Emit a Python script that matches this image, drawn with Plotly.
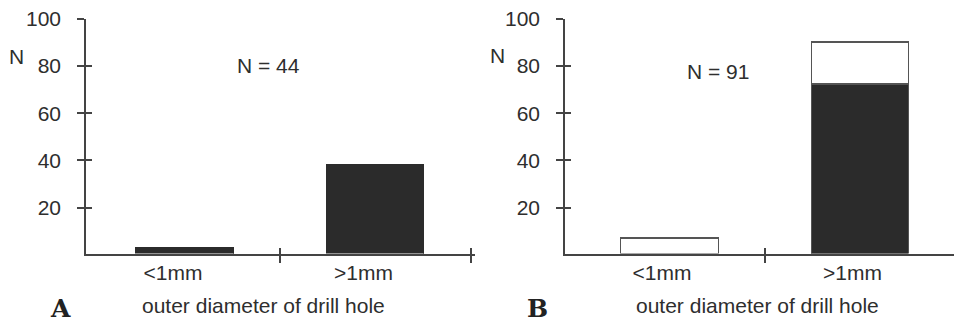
import plotly.graph_objects as go

# ---- data ----
categories = ["<1mm", ">1mm"]
panel_a_black = [3, 38]
panel_b_black = [None, 72]
panel_b_white = [6.5, 18]
y_ticks = [20, 40, 60, 80, 100]
n_a = "N = 44"
n_b = "N = 91"
x_title = "outer diameter of drill hole"

FONT = "Liberation Sans, Arial, sans-serif"
INK = "#2e2e2e"
AX = "#444444"
DARK = "#2b2b2b"
OUT = "#555555"
FS = 21

xpos = list(range(len(categories)))

fig = go.Figure()

fig.add_trace(go.Bar(x=xpos, y=panel_a_black, width=0.51, xaxis="x", yaxis="y",
                     marker=dict(color=DARK, line=dict(color=DARK, width=1)),
                     showlegend=False))
fig.add_trace(go.Bar(x=xpos, y=panel_b_black, width=0.51, xaxis="x2", yaxis="y2",
                     marker=dict(color=DARK, line=dict(color=OUT, width=1.5)),
                     showlegend=False))
fig.add_trace(go.Bar(x=xpos, y=panel_b_white, width=0.51, xaxis="x2", yaxis="y2",
                     marker=dict(color="white", line=dict(color=OUT, width=1.5)),
                     showlegend=False))
# invisible traces to host the overlay axes (inner half of crossing ticks)
for xa_, ya_ in [("x3", "y"), ("x", "y3"), ("x4", "y2"), ("x2", "y4")]:
    fig.add_trace(go.Scatter(x=[None], y=[None], xaxis=xa_, yaxis=ya_,
                             showlegend=False, hoverinfo="skip"))

xr_a = [-0.52, 1.522]
xr_b = [-0.551, 1.491]
yr = [0.5, 100]
ydom = [0.2127, 0.941]

def xbase(dom, rng, minor_vals, shift, anchor):
    return dict(domain=dom, range=rng, anchor=anchor, showline=True, linecolor=AX, linewidth=1.5,
                showgrid=False, zeroline=False, tickmode="array", tickvals=xpos,
                ticktext=categories, ticks="", ticklabelshift=shift, ticklabelstandoff=0,
                tickfont=dict(family=FONT, size=FS, color=INK), automargin=False, fixedrange=True,
                minor=dict(tickmode="array", tickvals=minor_vals, ticks="outside", ticklen=8,
                           tickwidth=1.5, tickcolor=AX, showgrid=False))

def xover(base, rng, vals, anchor):
    return dict(overlaying=base, anchor=anchor, side="bottom", range=rng, showline=False,
                showgrid=False, zeroline=False, tickmode="array", tickvals=vals, ticks="inside",
                ticklen=6, tickwidth=1.5, tickcolor=AX, showticklabels=False, automargin=False)

def ybase(anchor):
    return dict(domain=ydom, range=yr, anchor=anchor, showline=True, linecolor=AX,
                linewidth=1.5, showgrid=False, zeroline=False, tickmode="array", tickvals=y_ticks,
                ticks="outside", ticklen=7, tickwidth=1.5, tickcolor=AX, ticklabelstandoff=12,
                tickfont=dict(family=FONT, size=FS, color=INK), automargin=False, fixedrange=True)

def yover(base, anchor):
    return dict(overlaying=base, anchor=anchor, side="left", range=yr, showline=False,
                showgrid=False, zeroline=False, tickmode="array", tickvals=y_ticks,
                ticks="inside", ticklen=6, tickwidth=1.5, tickcolor=AX, showticklabels=False,
                automargin=False)

fig.update_layout(
    width=954, height=322,
    margin=dict(l=0, r=0, t=0, b=0),
    paper_bgcolor="white", plot_bgcolor="rgba(0,0,0,0)",
    barmode="stack", bargap=0,
    xaxis=xbase([86 / 954, 475 / 954], xr_a, [0.5, 1.5], -12, "y"),
    xaxis2=xbase([565 / 954, 1.0], xr_b, [0.5], -8, "y2"),
    yaxis=ybase("x"), yaxis2=ybase("x2"),
    xaxis3=xover("x", xr_a, [0.5, 1.5], "y"),
    xaxis4=xover("x2", xr_b, [0.5], "y2"),
    yaxis3=yover("y", "x"),
    yaxis4=yover("y2", "x2"),
    font=dict(family=FONT, size=FS, color=INK),
    showlegend=False,
)

TXT = dict(family=FONT, size=FS, color=INK)
BIG = dict(family="DejaVu Serif, serif", size=25, color="#222")
C = dict(showarrow=False, xanchor="center", yanchor="middle")
ann = [
    dict(text="N", xref="paper", yref="paper", x=16 / 954, y=(322 - 56) / 322, font=TXT, **C),
    dict(text="N", xref="paper", yref="paper", x=497 / 954, y=(322 - 55) / 322, font=TXT, **C),
    dict(text=n_a, xref="x", yref="y", x=0.44, y=80.3, font=TXT, **C),
    dict(text=n_b, xref="x2", yref="y2", x=0.252, y=77.8, font=TXT, **C),
    dict(text=x_title, xref="x", yref="paper", x=0.414, y=(322 - 305) / 322, font=TXT, **C),
    dict(text=x_title, xref="x2", yref="paper", x=0.462, y=(322 - 305) / 322, font=TXT, **C),
    dict(text="<b>A</b>", xref="paper", yref="paper", x=60 / 954, y=(322 - 308) / 322, font=BIG, **C),
    dict(text="<b>B</b>", xref="paper", yref="paper", x=537 / 954, y=(322 - 308) / 322, font=BIG, **C),
]
fig.update_layout(annotations=ann)

fig.write_html("out.html", config={"displayModeBar": False},
               post_script="document.body.style.margin='0px';")
